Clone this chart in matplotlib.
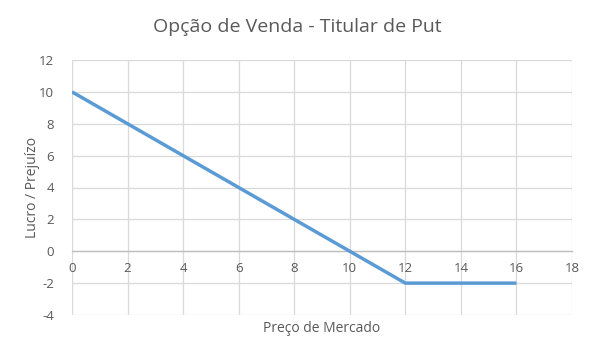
import matplotlib
matplotlib.use("Agg")
import matplotlib.pyplot as plt

precos = [0, 1, 2, 3, 4, 5, 6, 7, 8, 9, 10, 11, 12, 13, 14, 15, 16]
lucro = [10, 9, 8, 7, 6, 5, 4, 3, 2, 1, 0, -1, -2, -2, -2, -2, -2]
x_ticks = [0, 2, 4, 6, 8, 10, 12, 14, 16, 18]
y_ticks = [-4, -2, 0, 2, 4, 6, 8, 10, 12]

plt.rcParams['font.family'] = ['Open Sans', 'DejaVu Sans']
plt.rcParams['axes.unicode_minus'] = False
txt = '#595959'
grid = '#D9D9D9'

fig = plt.figure(figsize=(5.94, 3.54), dpi=100)
ax = fig.add_axes([72/594, 1-315/354, 500/594, 255/354])
ax.plot(precos, lucro, color='#5B9BD5', lw=2.5, solid_capstyle='butt', zorder=3)
ax.set_xlim(0, 18)
ax.set_ylim(-4, 12)
ax.set_xticks(x_ticks)
ax.set_yticks(y_ticks)
ax.grid(True, color=grid, lw=0.9)
ax.set_axisbelow(True)
for s in ['top', 'right', 'left']:
    ax.spines[s].set_visible(False)
ax.spines['bottom'].set_position(('data', 0))
ax.spines['bottom'].set_color('#BFBFBF')
ax.spines['bottom'].set_linewidth(1.0)
ax.tick_params(axis='both', length=0, labelsize=9.5, labelcolor=txt)
ax.tick_params(axis='x', pad=8)
ax.tick_params(axis='y', pad=13)
fig.text(297/594, 1-27/354, 'Opção de Venda - Titular de Put', fontsize=14,
         color=txt, ha='center', va='center')
fig.text(322/594, 1-328/354, 'Preço de Mercado', fontsize=10, color=txt,
         ha='center', va='center')
fig.text(33/594, 1-187/354, 'Lucro / Prejuízo', fontsize=10, color=txt,
         ha='center', va='center', rotation=90)
fig.savefig('out.png', dpi=100)
